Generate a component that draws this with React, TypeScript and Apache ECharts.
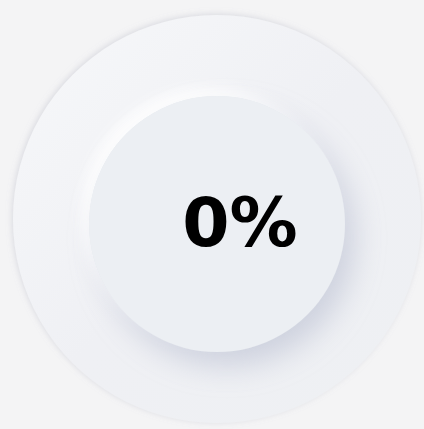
import React, { useEffect, useRef } from "react";
import * as echarts from "echarts";

const progressLabels = ["进度"];
const progressValues = [0];

export default function App() {
  const ref = useRef<HTMLDivElement>(null);
  useEffect(() => {
    if (!ref.current) return;
    const chart = echarts.init(ref.current, null, { renderer: "svg" });
    const outerC = [217, 219];
    const innerC = [217, 224];
    const outerR = 204;
    const innerR = 128;
    const silent = true;
    chart.setOption({
      animation: false,
      backgroundColor: "#f4f4f5",
      series: [
        {
          type: "pie",
          silent,
          center: outerC,
          radius: [0, outerR],
          label: { show: false },
          itemStyle: {
            color: new echarts.graphic.LinearGradient(0, 0, 1, 1, [
              { offset: 0, color: "#f7f8fa" },
              { offset: 0.5, color: "#eff0f4" },
              { offset: 1, color: "#eef0f3" },
            ]),
            shadowBlur: 6,
            shadowOffsetX: -1,
            shadowOffsetY: -1,
            shadowColor: "rgba(150,155,175,0.3)",
          },
          data: [{ value: 1 }],
        },
        {
          type: "pie",
          silent,
          center: innerC,
          radius: [0, innerR],
          label: { show: false },
          itemStyle: {
            color: "#eceff3",
            shadowBlur: 12,
            shadowOffsetX: -8,
            shadowOffsetY: -8,
            shadowColor: "rgba(255,255,255,1)",
          },
          data: [{ value: 1 }],
        },
        {
          type: "pie",
          silent,
          center: innerC,
          radius: [0, innerR],
          label: { show: false },
          itemStyle: {
            color: "#eceff3",
            shadowBlur: 30,
            shadowOffsetX: 10,
            shadowOffsetY: 14,
            shadowColor: "rgba(165,172,195,0.45)",
          },
          data: [{ value: 1 }],
        },
        {
          type: "pie",
          silent,
          center: [240, 222],
          radius: [0, 1],
          itemStyle: { color: "transparent" },
          label: {
            show: true,
            position: "center",
            formatter: (p: any) => `${p.value}%`,
            fontSize: 68,
            fontWeight: "bold",
            fontFamily: "DejaVu Sans",
            color: "#000000",
          },
          data: progressValues.map((v, i) => ({ name: progressLabels[i], value: v })),
        },
      ],
    });
    return () => chart.dispose();
  }, []);
  return (
    <div
      ref={ref}
      style={{ position: "fixed", left: 0, top: 0, width: 424, height: 429 }}
    />
  );
}
